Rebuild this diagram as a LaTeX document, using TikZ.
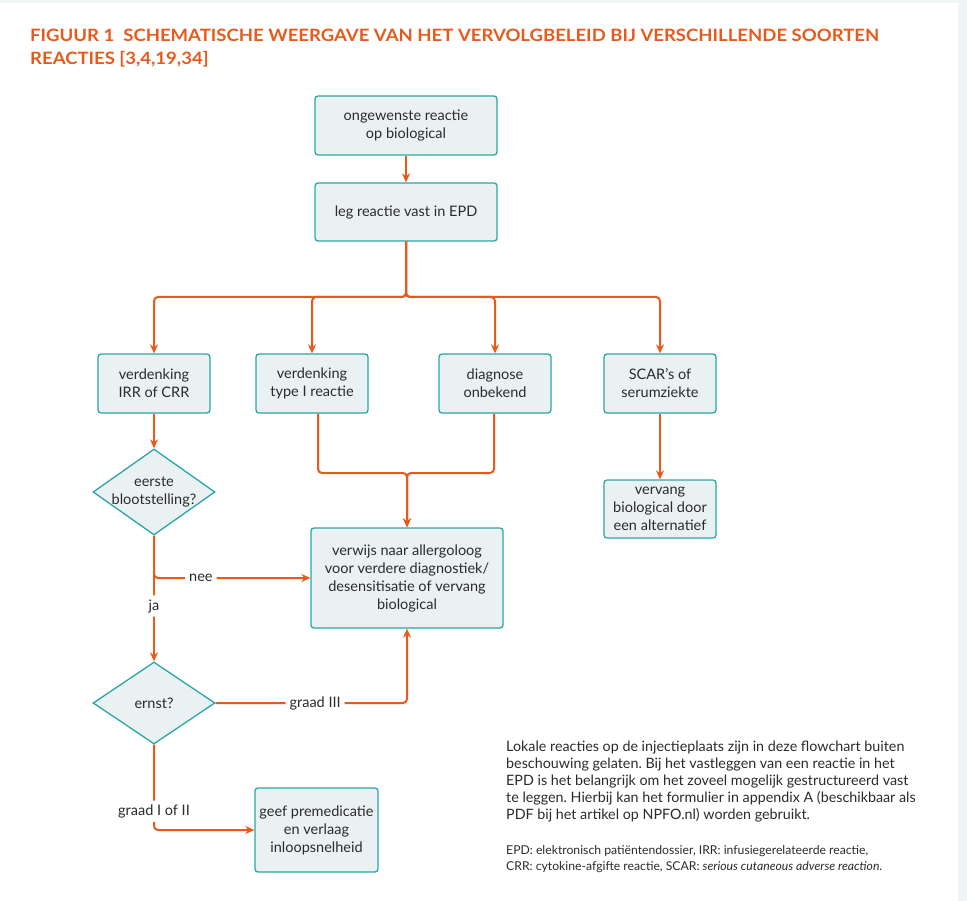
\documentclass[tikz,border=0pt]{standalone}
\usepackage{fontspec}
\setmainfont{Lato}
\newfontfamily\titlefont[FakeStretch=1.09]{Lato}
\usepackage{xcolor}
\usepackage{tikz}
\usetikzlibrary{shapes.geometric,arrows.meta}
\definecolor{npforange}{HTML}{E85A1B}
\definecolor{npfteal}{HTML}{2BA6A6}
\definecolor{npffill}{HTML}{EAF1F2}
\definecolor{npftext}{HTML}{2B2B2B}
\frenchspacing

\begin{document}
\begin{tikzpicture}[
    x=1pt, y=-1pt,
    box/.style={draw=npfteal, fill=npffill, line width=1.3pt, rounded corners=3pt,
                minimum height=59pt, minimum width=112pt, align=center,
                inner sep=1pt, text=npftext, font=\fontsize{14.5}{18}\selectfont},
    decision/.style={draw=npfteal, fill=npffill, line width=1.3pt, diamond,
                inner sep=0pt, minimum width=122pt, minimum height=86pt},
    dtext/.style={align=center, text=npftext, inner sep=0pt,
                font=\fontsize{14.5}{18}\selectfont},
    arrow/.style={-{Stealth[length=9pt,width=8pt]}, npforange, line width=2pt,
                rounded corners=4pt},
    lbl/.style={fill=white, text=npftext, inner sep=4pt,
                font=\fontsize{14.5}{16}\selectfont},
  ]
  \useasboundingbox (0,0) rectangle (967,901);
  \fill[npffill!70] (0,0) rectangle (967,901);
  \fill[white] (0,3) rectangle (958,901);

  % titel
  \node[anchor=north west, align=left, text=npforange, inner sep=0pt,
        font=\fontsize{17}{23}\titlefont\bfseries] (titel) at (30,29)
    {FIGUUR 1\ \ SCHEMATISCHE WEERGAVE VAN HET VERVOLGBELEID BIJ VERSCHILLENDE SOORTEN\\
     REACTIES [3,4,19,34]};

  % flowchart
  \node[box, minimum width=182pt] (reactie) at (406,125.5) {ongewenste reactie\\op biological};
  \node[box, minimum width=182pt, minimum height=58pt] (epd) at (406,212) {leg reactie vast in EPD};

  \node[box] (irr)      at (154,383.5) {verdenking\\IRR of CRR};
  \node[box] (typeI)    at (312,383.5) {verdenking\\type I reactie};
  \node[box] (onbekend) at (495,383.5) {diagnose\\onbekend};
  \node[box] (scar)     at (660,383.5) {SCAR's of\\serumziekte};
  \node[box, minimum height=58pt] (vervang) at (660,509) {vervang\\biological door\\een alternatief};

  \node[decision, label={[dtext]center:eerste\\blootstelling?}] (eerste) at (154,492) {};
  \node[box, minimum width=192pt, minimum height=100pt] (verwijs) at (407,578)
    {verwijs naar allergoloog\\voor verdere diagnostiek/\\desensitisatie of vervang\\biological};
  \node[decision, minimum height=82pt, label={[dtext]center:ernst?}] (ernst) at (154,703) {};
  \node[box, minimum width=123pt, minimum height=84pt] (geef) at (316.5,830)
    {geef premedicatie\\en verlaag\\inloopsnelheid};

  \coordinate (split) at (406,297);
  \coordinate (join)  at (407,473);

  \draw[arrow] (reactie) -- (epd);
  \draw[arrow] (epd.south) -- (split) -| (irr.north);
  \draw[arrow] (epd.south) -- (split) -| (typeI.north);
  \draw[arrow] (epd.south) -- (split) -| (onbekend.north);
  \draw[arrow] (epd.south) -- (split) -| (scar.north);
  \draw[arrow] (scar) -- (vervang);
  \draw[arrow] (irr) -- (eerste);
  \draw[arrow] ([xshift=6pt]typeI.south) |- (join) -- (verwijs.north);
  \draw[arrow] ([xshift=-1pt]onbekend.south) |- (join) -- (verwijs.north);

  \draw[arrow] (eerste.south) |- (verwijs.west) node[lbl, pos=0.65] {nee};
  \draw[arrow] (eerste.south) -- (ernst.north) node[lbl, pos=0.56] {ja};
  \draw[arrow] (ernst.east) -| (verwijs.south) node[lbl, pos=0.26] {graad III};
  \draw[arrow] (ernst.south) |- (geef.west) node[lbl, pos=0.39] {graad I of II};

  % toelichting
  \node[anchor=north west, align=left, inner sep=0pt, text=npftext,
        font=\fontsize{14.3}{17}\selectfont] (noot) at (506,741)
    {Lokale reacties op de injectieplaats zijn in deze flowchart buiten\\
     beschouwing gelaten. Bij het vastleggen van een reactie in het\\
     EPD is het belangrijk om het zoveel mogelijk gestructureerd vast\\
     te leggen. Hierbij kan het formulier in appendix A (beschikbaar als\\
     PDF bij het artikel op NPFO.nl) worden gebruikt.};
  \node[anchor=north west, align=left, inner sep=0pt, text=npftext,
        font=\fontsize{12.2}{16}\selectfont] (afkortingen) at (506,845)
    {EPD: elektronisch patiëntendossier, IRR: infusiegerelateerde reactie,\\
     CRR: cytokine-afgifte reactie, SCAR: \textit{serious cutaneous adverse reaction}.};
\end{tikzpicture}
\end{document}
